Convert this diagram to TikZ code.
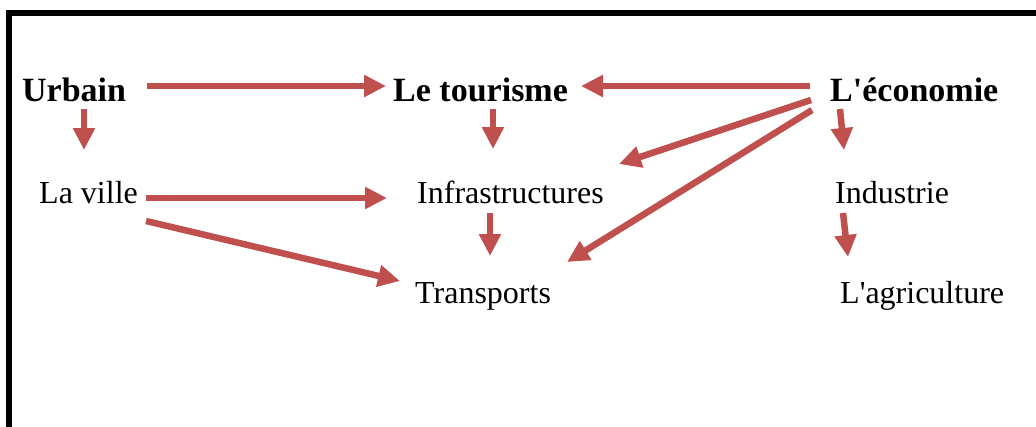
\documentclass[tikz,border=0pt]{standalone}
\usepackage{fontspec}
\setmainfont{Liberation Serif}
\usetikzlibrary{arrows.meta}
\definecolor{arrred}{HTML}{C0504D}
\begin{document}
\begin{tikzpicture}[x=1pt,y=-1pt,
  lbl/.style={anchor=base west,inner sep=0pt,font=\fontsize{32}{36}\selectfont},
  blbl/.style={anchor=base west,inner sep=0pt,font=\fontsize{34}{40}\selectfont\bfseries},
  arr/.style={draw=arrred,line width=6.5pt,-{Triangle[length=22pt,width=21pt,fill=arrred]}}]
\useasboundingbox (0,0) rectangle (1036,426);
\draw[line width=6pt,line join=miter] (9,430) -- (9,13) -- (1040,13);
% nodes
\node[blbl] (urb) at (22,101) {Urbain};
\node[blbl] (tour) at (393,101) {Le tourisme};
\node[blbl] (eco) at (830,101) {L\textquotesingle économie};
\node[lbl] (ville) at (39,203) {La ville};
\node[lbl] (infra) at (417,203) {Infrastructures};
\node[lbl] (indus) at (835,203) {Industrie};
\node[lbl] (trans) at (415,303) {Transports};
\node[lbl] (agri) at (840,303) {L\textquotesingle agriculture};
% arrow end points
\coordinate (a1s) at (147,86);  \coordinate (a1e) at (386,86);
\coordinate (a2s) at (810,86);  \coordinate (a2e) at (581,86);
\coordinate (a3s) at (84,109);  \coordinate (a3e) at (84,150);
\coordinate (a4s) at (493,109); \coordinate (a4e) at (493,149);
\coordinate (a5s) at (840,109); \coordinate (a5e) at (844,150);
\coordinate (a6s) at (146,198); \coordinate (a6e) at (387,198);
\coordinate (a7s) at (146,221); \coordinate (a7e) at (400,281);
\coordinate (a8s) at (490,213); \coordinate (a8e) at (490,256);
\coordinate (a9s) at (811,100); \coordinate (a9e) at (619,164);
\coordinate (a10s) at (812,110); \coordinate (a10e) at (567,262);
\coordinate (a11s) at (843,213); \coordinate (a11e) at (848,257);
% connectors
\draw[arr] (a1s) -- (a1e);
\draw[arr] (a2s) -- (a2e);
\draw[arr] (a3s) -- (a3e);
\draw[arr] (a4s) -- (a4e);
\draw[arr] (a5s) -- (a5e);
\draw[arr] (a6s) -- (a6e);
\draw[arr] (a7s) -- (a7e);
\draw[arr] (a8s) -- (a8e);
\draw[arr] (a9s) -- (a9e);
\draw[arr] (a10s) -- (a10e);
\draw[arr] (a11s) -- (a11e);
\end{tikzpicture}
\end{document}
